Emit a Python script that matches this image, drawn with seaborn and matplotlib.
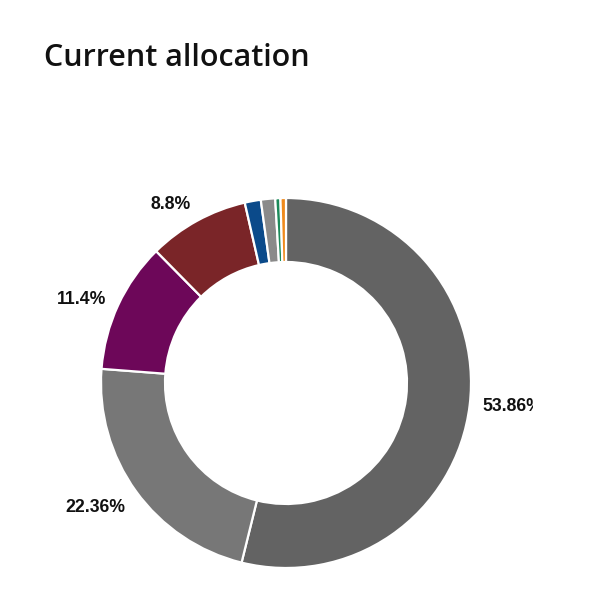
import matplotlib
matplotlib.use("Agg")
import matplotlib.pyplot as plt
import seaborn as sns

# allocation shares, clockwise from 12 o'clock
shares = [53.86, 22.36, 11.4, 8.8, 1.4, 1.25, 0.45, 0.48]
labels = ["53.86%", "22.36%", "11.4%", "8.8%", "", "", "", ""]
colors = ["#636363", "#777777", "#6d0759", "#7a2528", "#0b4a8a", "#8a8a8a", "#1b8a5a", "#f08a1c"]

sns.set_theme(style="white")
palette = sns.color_palette(colors)

fig = plt.figure(figsize=(5.94, 5.98), dpi=100)
fig.text(44 / 594, 1 - 58 / 598, "Current allocation", fontsize=22, fontweight=600,
         family=["Open Sans", "DejaVu Sans"], color="#111111", va="center", ha="left")

# axes sized so that radius 1 = 185 px, right edge clips the first label
ax = fig.add_axes([0, 0, 533 / 594, 478 / 598])
wedges, texts = ax.pie(shares, labels=labels, colors=palette, startangle=90, counterclock=False,
                       labeldistance=1.07, radius=1.0,
                       wedgeprops=dict(width=0.346, edgecolor="white", linewidth=1.6),
                       textprops=dict(fontsize=12.7, fontweight="bold", color="#111111",
                                      family=["Liberation Sans", "DejaVu Sans"]))
# anchor labels just outside the ring, aligned away from the slice
for t in texts:
    x, y = t.get_position()
    s = y / 1.07
    t.set_ha("left" if x > 0 else "right")
    if s > 0.5:
        t.set_va("baseline")
    elif s < -0.5:
        t.set_va("top")
    else:
        t.set_va("center")
    t.set_clip_on(True)
ax.set_xlim(-286 / 185, 247 / 185)
ax.set_ylim(-215 / 185, 263 / 185)
ax.set_aspect("auto")
ax.axis("off")

fig.savefig("out.png", dpi=100)
